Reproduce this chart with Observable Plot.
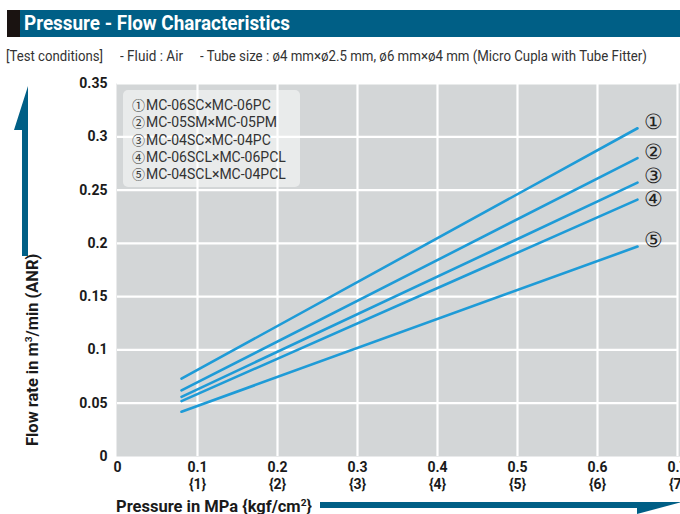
<!DOCTYPE html>
<html><head><meta charset="utf-8">
<script src="https://cdn.jsdelivr.net/npm/d3@7"></script>
<script src="https://cdn.jsdelivr.net/npm/@observablehq/plot@0.6"></script>
<style>
html,body{margin:0;padding:0;background:#fff;}
#wrap{position:relative;width:680px;height:514px;overflow:hidden;font-family:Roboto,"Liberation Sans",sans-serif;}
#titlebar{position:absolute;left:7px;top:10px;width:673px;height:27px;background:#005f86;}
#titlebar .blk{position:absolute;left:0;top:0;width:13px;height:27px;background:#1a1311;}
.fit{position:absolute;white-space:nowrap;transform-origin:0 50%;}
#title{left:24px;top:10px;line-height:27px;color:#fff;font-weight:bold;font-size:21px;}
.sub{top:47px;font-size:14px;line-height:18px;color:#333;}
#chart{position:absolute;left:0;top:70px;}
#legend{position:absolute;left:123px;top:90px;width:177px;height:97px;background:rgba(255,255,255,0.5);border-radius:5px;font-size:14px;color:#333;}
#legend .row{position:absolute;left:9px;white-space:nowrap;line-height:16px;height:16px;}
#legend .c{font-family:"Noto Sans CJK JP",sans-serif;font-size:13px;line-height:13px;margin-right:1px;}
#ylab{left:24px;top:455px;transform-origin:0 0;font-weight:bold;font-size:16px;color:#1a1a1a;line-height:18px;margin-top:-9px;}
#xlab{left:116px;top:498px;font-weight:bold;font-size:16px;color:#1a1a1a;line-height:18px;}
sup{font-size:0.62em;vertical-align:0.6em;line-height:0;}
#deco{position:absolute;left:0;top:0;}
#chart svg text{font-family:Roboto,sans-serif;}
</style></head>
<body>
<div id="wrap">
  <div id="titlebar"><div class="blk"></div></div>
  <div id="title" class="fit">Pressure - Flow Characteristics</div>
  <div id="chart"></div>
  <div id="legend"></div>
  <div id="ylab" class="fit">Flow rate in m<sup>3</sup>/min (ANR)</div>
  <div id="xlab" class="fit">Pressure in MPa {kgf/cm<sup>2</sup>}</div>
  <svg id="deco" width="680" height="514">
    <polygon points="28,86 14,130 22,130 22,256 28,256" fill="#005f86"/>
    <polygon points="320,502 682,502 637,514 637,508 320,508" fill="#005f86"/>
  </svg>
</div>
<script>
// ---- data ----
const seriesMarks = ["①", "②", "③", "④", "⑤"];
const seriesNames = ["MC-06SC×MC-06PC", "MC-05SM×MC-05PM", "MC-04SC×MC-04PC", "MC-06SCL×MC-06PCL", "MC-04SCL×MC-04PCL"];
const pressure = [0.08, 0.65];
const flow1 = [0.073, 0.308];
const flow2 = [0.062, 0.280];
const flow3 = [0.056, 0.257];
const flow4 = [0.052, 0.241];
const flow5 = [0.042, 0.197];
const flows = [flow1, flow2, flow3, flow4, flow5];
const xTicks = [0, 0.1, 0.2, 0.3, 0.4, 0.5, 0.6, 0.7];
const xTickLabels = ["0", "0.1", "0.2", "0.3", "0.4", "0.5", "0.6", "0.7"];
const xTickLabels2 = ["", "{1}", "{2}", "{3}", "{4}", "{5}", "{6}", "{7}"];
const yTicks = [0, 0.05, 0.1, 0.15, 0.2, 0.25, 0.3, 0.35];
const yTickLabels = ["0", "0.05", "0.1", "0.15", "0.2", "0.25", "0.3", "0.35"];
const subtitleParts = ["[Test conditions]", "- Fluid : Air", "- Tube size : ø4 mm×ø2.5 mm, ø6 mm×ø4 mm (Micro Cupla with Tube Fitter)"];

const rows = [];
flows.forEach((f, i) => pressure.forEach((p, j) => rows.push({series: seriesMarks[i], x: p, y: f[j]})));

// layout helpers
const wrap = document.getElementById("wrap");
const subLeft = [6, 120, 200], subWidth = [97, 63, 447];
subtitleParts.forEach((t, i) => {
  const d = document.createElement("div");
  d.className = "fit sub";
  d.style.left = subLeft[i] + "px";
  d.textContent = t;
  d.dataset.w = subWidth[i];
  wrap.appendChild(d);
});
document.getElementById("title").dataset.w = 266;
document.getElementById("ylab").dataset.w = 192;
document.getElementById("xlab").dataset.w = 196;

const lg = document.getElementById("legend");
seriesNames.forEach((n, i) => {
  const d = document.createElement("div");
  d.className = "row";
  d.style.top = (7 + i * 17.3) + "px";
  d.innerHTML = `<span class="c">${seriesMarks[i]}</span>${n}`;
  lg.appendChild(d);
});

const lastOpts = {x: "x", y: "y", z: "series", text: "series", dx: 16, fontFamily: "Noto Sans CJK JP", fontSize: 21, fontWeight: "normal", fill: "#222"};
const chart = Plot.plot({
  width: 680, height: 444,
  marginTop: 13, marginBottom: 58, marginLeft: 117, marginRight: 3,
  style: {background: "transparent", fontFamily: "Roboto, sans-serif", fontSize: "14px", fontWeight: "bold", color: "#1a1a1a"},
  x: {domain: [0, 0.7]},
  y: {domain: [0, 0.35]},
  marks: [
    Plot.frame({fill: "#d3d6d7", stroke: null, insetRight: -3, insetLeft: -1}),
    Plot.gridX(xTicks.slice(1), {stroke: "white", strokeOpacity: 1, strokeWidth: 2.2}),
    Plot.gridY(yTicks.slice(1), {stroke: "white", strokeOpacity: 1, strokeWidth: 2.2}),
    Plot.line(rows, {x: "x", y: "y", z: "series", stroke: "#1e9bd7", strokeWidth: 2.6}),
    Plot.text(rows.filter(d => d.series !== "④"), Plot.selectLast({...lastOpts, dy: -6})),
    Plot.text(rows.filter(d => d.series === "④"), Plot.selectLast({...lastOpts, dy: 0})),
    Plot.axisY(yTicks, {tickSize: 0, tickPadding: 10, tickFormat: (d, i) => yTickLabels[i], label: null, fontSize: 14, fontWeight: "bold"}),
    Plot.axisX(xTicks, {tickSize: 0, tickPadding: 6, tickFormat: (d, i) => xTickLabels[i], label: null, fontSize: 14, fontWeight: "bold"}),
    Plot.axisX(xTicks, {tickSize: 0, tickPadding: 23, tickFormat: (d, i) => xTickLabels2[i], label: null, fontSize: 14, fontWeight: "bold"})
  ]
});
document.getElementById("chart").appendChild(chart);

// squeeze texts horizontally to mimic the condensed face of the original
document.querySelectorAll(".fit").forEach(el => {
  const w = el.scrollWidth;
  const s = (+el.dataset.w) / w;
  el.style.transform = (el.id === "ylab" ? "rotate(-90deg) " : "") + `scaleX(${s})`;
});
</script>
</body></html>
